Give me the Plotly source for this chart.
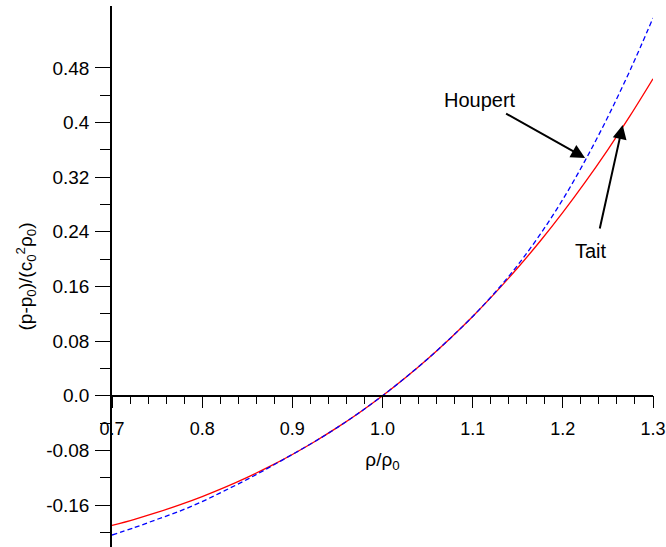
import plotly.graph_objects as go

# ---- data ----
rho_ratio = [0.700, 0.725, 0.750, 0.775, 0.800, 0.825, 0.850, 0.875, 0.900,
             0.925, 0.950, 0.975, 1.000, 1.025, 1.050, 1.075, 1.100, 1.125,
             1.150, 1.175, 1.200, 1.225, 1.250, 1.275, 1.300]
tait = [-0.190, -0.1809, -0.1709, -0.1598, -0.1476, -0.1342, -0.1195, -0.1035,
        -0.0860, -0.0670, -0.0464, -0.0241, 0.0, 0.0260, 0.0539, 0.0839, 0.1160,
        0.1505, 0.1873, 0.2265, 0.2684, 0.3130, 0.3604, 0.4107, 0.4640]
houpert = [-0.204, -0.193, -0.181, -0.169, -0.155, -0.139, -0.1225, -0.1045,
           -0.0860, -0.0670, -0.0464, -0.0241, 0.0, 0.0260, 0.0539, 0.0839,
           0.1160, 0.1515, 0.1913, 0.2365, 0.2874, 0.345, 0.4084, 0.4777, 0.553]

x_tickvals = [0.7, 0.8, 0.9, 1.0, 1.1, 1.2, 1.3]
x_ticktext = ["0.7", "0.8", "0.9", "1.0", "1.1", "1.2", "1.3"]
x_minor = [0.72, 0.74, 0.76, 0.78, 0.82, 0.84, 0.86, 0.88, 0.92, 0.94, 0.96, 0.98,
           1.02, 1.04, 1.06, 1.08, 1.12, 1.14, 1.16, 1.18, 1.22, 1.24, 1.26, 1.28]
y_tickvals = [-0.16, -0.08, 0.0, 0.08, 0.16, 0.24, 0.32, 0.4, 0.48]
y_ticktext = ["-0.16", "-0.08", "0.0", "0.08", "0.16", "0.24", "0.32", "0.4", "0.48"]
y_minor = [-0.2, -0.12, -0.04, 0.04, 0.12, 0.2, 0.28, 0.36, 0.44]

x_range = [0.7, 1.3]
y_range = [-0.2215, 0.5706]

FONT = "Liberation Sans, Arial, Helvetica, sans-serif"

fig = go.Figure()
fig.add_trace(go.Scatter(x=rho_ratio, y=tait, mode="lines", name="Tait",
                         line=dict(color="#ff0000", width=1.3, shape="spline")))
fig.add_trace(go.Scatter(x=rho_ratio, y=houpert, mode="lines", name="Houpert",
                         line=dict(color="#0000ff", width=1.3, dash="5px,3px",
                                   shape="spline")))

# arrows (tip -> tail in data coords) and labels
fig.add_annotation(x=1.2247, y=0.348, ax=1.1354, ay=0.4143, xref="x", yref="y",
                   axref="x", ayref="y", text="", showarrow=True, arrowhead=2,
                   arrowsize=1.4, arrowwidth=2, arrowcolor="black")
fig.add_annotation(x=1.2664, y=0.3963, ax=1.2406, ay=0.2426, xref="x", yref="y",
                   axref="x", ayref="y", text="", showarrow=True, arrowhead=2,
                   arrowsize=1.4, arrowwidth=2, arrowcolor="black")
fig.add_annotation(x=1.1077, y=0.433, text="Houpert", showarrow=False,
                   font=dict(size=20, color="black", family=FONT))
fig.add_annotation(x=1.2314, y=0.2123, text="Tait", showarrow=False,
                   font=dict(size=20, color="black", family=FONT))

xpos = (0 - y_range[0]) / (y_range[1] - y_range[0])

fig.update_layout(
    width=666, height=547,
    margin=dict(l=112, r=13, t=6, b=0),
    plot_bgcolor="white", paper_bgcolor="white",
    showlegend=False,
    font=dict(family=FONT, size=19, color="black"),
    xaxis=dict(range=x_range, anchor="free", position=xpos,
               showline=True, linecolor="black", linewidth=1.5,
               showgrid=False, zeroline=False,
               tickmode="array", tickvals=x_tickvals, ticktext=x_ticktext,
               ticks="outside", ticklen=12, tickwidth=1.3, tickcolor="black",
               ticklabelstandoff=5,
               tickfont=dict(size=18),
               minor=dict(tickmode="array", tickvals=x_minor, ticks="outside",
                          ticklen=8, tickwidth=1.1, tickcolor="black"),
               title=dict(text="ρ/ρ<sub>0</sub>", standoff=14,
                          font=dict(size=19)),
               automargin=False),
    yaxis=dict(range=y_range, showline=True, linecolor="black", linewidth=1.5,
               showgrid=False, zeroline=False,
               tickmode="array", tickvals=y_tickvals, ticktext=y_ticktext,
               ticks="outside", ticklen=15, tickwidth=1.3, tickcolor="black",
               ticklabelstandoff=2,
               tickfont=dict(size=19),
               minor=dict(tickmode="array", tickvals=y_minor, ticks="outside",
                          ticklen=10, tickwidth=1.1, tickcolor="black"),
               title=dict(text="(p-p<sub>0</sub>)/(c<sub>0</sub><sup>2</sup>ρ<sub>0</sub>)",
                          standoff=8, font=dict(size=19)),
               automargin=False),
)

fig.write_html("out.html")
